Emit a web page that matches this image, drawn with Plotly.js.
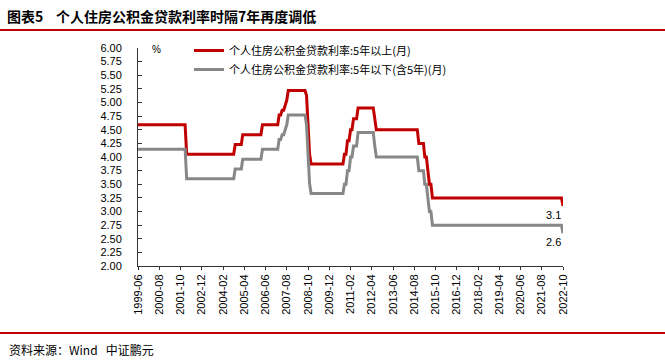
<!DOCTYPE html>
<html>
<head>
<meta charset="utf-8">
<script src="https://cdn.plot.ly/plotly-3.0.1.min.js"></script>
<style>html,body{margin:0;padding:0;background:#fff;}#chart{width:665px;height:363px;}</style>
</head>
<body>
<div id="chart"></div>
<script>
// Monthly series (months where the value changes, plus the month before each change)
const months = ['1999-06','2002-01','2002-02','2004-09','2004-10','2005-02','2005-03','2006-03','2006-04','2007-02','2007-03','2007-04','2007-05','2007-06','2007-07','2007-08','2007-09','2008-08','2008-09','2008-10','2008-11','2008-12','2010-09','2010-10','2010-11','2010-12','2011-01','2011-02','2011-03','2011-04','2011-06','2011-07','2012-05','2012-06','2012-07','2014-10','2014-11','2015-02','2015-03','2015-04','2015-05','2015-06','2015-07','2015-08','2022-09','2022-10'];
const rateAbove5 = [4.59,4.59,4.05,4.05,4.23,4.23,4.41,4.41,4.59,4.59,4.77,4.77,4.86,4.86,4.95,5.04,5.22,5.22,5.13,4.59,4.05,3.87,3.87,4.05,4.05,4.30,4.30,4.50,4.50,4.70,4.70,4.90,4.90,4.70,4.50,4.50,4.25,4.25,4.00,4.00,3.75,3.50,3.50,3.25,3.25,3.10];
const rateBelow5 = [4.14,4.14,3.60,3.60,3.78,3.78,3.96,3.96,4.14,4.14,4.32,4.32,4.41,4.41,4.50,4.59,4.77,4.77,4.59,4.05,3.51,3.33,3.33,3.50,3.50,3.75,3.75,4.00,4.00,4.20,4.20,4.45,4.45,4.20,4.00,4.00,3.75,3.75,3.50,3.50,3.25,3.00,3.00,2.75,2.75,2.60];
const seriesNames = ['个人住房公积金贷款利率:5年以上(月)','个人住房公积金贷款利率:5年以下(含5年)(月)'];
const xTickLabels = ['1999-06','2000-08','2001-10','2002-12','2004-02','2005-04','2006-06','2007-08','2008-10','2009-12','2011-02','2012-04','2013-06','2014-08','2015-10','2016-12','2018-02','2019-04','2020-06','2021-08','2022-10'];
const titleText = '图表5\u00a0\u00a0\u00a0\u00a0个人住房公积金贷款利率时隔7年再度调低';
const sourceText = '资料来源：Wind\u00a0\u00a0\u00a0中证鹏元';

const W = 665, H = 363;
const M = {l: 138, r: 102, t: 48, b: 97};
const pw = W - M.l - M.r, ph = H - M.t - M.b;
const px = X => (X - M.l) / pw;
const py = Y => (H - M.b - Y) / ph;

const cjk = '"Noto Sans CJK SC", "Noto Sans", sans-serif';
const latin = '"Liberation Sans", Arial, sans-serif';
const red = '#C00000', gray = '#878787';

const traces = [
  {x: months, y: rateAbove5, name: seriesNames[0], type: 'scatter', mode: 'lines',
   line: {color: red, width: 3}},
  {x: months, y: rateBelow5, name: seriesNames[1], type: 'scatter', mode: 'lines',
   line: {color: gray, width: 3}}
];

const last = months.length - 1;
const layout = {
  width: W, height: H,
  margin: M,
  paper_bgcolor: '#fff', plot_bgcolor: '#fff',
  showlegend: true,
  title: {text: titleText, x: 7 / W, xanchor: 'left', xref: 'container', y: 1 - 17 / H, yanchor: 'middle', yref: 'container',
          font: {family: cjk, size: 14, color: '#000', weight: 'bold'}},
  legend: {x: px(189), xanchor: 'left', y: py(36), yanchor: 'top', orientation: 'v',
           bgcolor: 'rgba(0,0,0,0)', font: {family: cjk, size: 11, color: '#000'}, tracegroupgap: 0},
  xaxis: {type: 'date', range: ['1999-06-01', '2022-10-01'],
          tickvals: xTickLabels.map(s => s + '-01'), ticktext: xTickLabels,
          tickangle: -90, ticks: 'outside', ticklen: 3, tickcolor: '#333',
          showline: true, linecolor: '#333', linewidth: 1, showgrid: false, zeroline: false,
          tickfont: {family: latin, size: 11, color: '#000'}},
  yaxis: {range: [2, 6], dtick: 0.25, tick0: 2, tickformat: '.2f',
          ticks: 'inside', ticklen: 4, tickcolor: '#333', ticklabelstandoff: 13,
          showline: true, linecolor: '#333', linewidth: 1, showgrid: false, zeroline: false,
          tickfont: {family: latin, size: 11, color: '#000'}},
  shapes: [
    {type: 'line', xref: 'paper', yref: 'paper', x0: px(0), x1: px(W), y0: py(30), y1: py(30), line: {color: red, width: 2}},
    {type: 'line', xref: 'paper', yref: 'paper', x0: px(0), x1: px(W), y0: py(333), y1: py(333), line: {color: red, width: 2}}
  ],
  annotations: [
    {x: months[last], y: rateAbove5[last], xref: 'x', yref: 'y', text: rateAbove5[last].toFixed(1), showarrow: false,
     xanchor: 'right', yanchor: 'top', yshift: -1, font: {family: latin, size: 11, color: '#000'}},
    {x: months[last], y: rateBelow5[last], xref: 'x', yref: 'y', text: rateBelow5[last].toFixed(1), showarrow: false,
     xanchor: 'right', yanchor: 'top', yshift: -1, font: {family: latin, size: 11, color: '#000'}},
    {x: px(150), y: py(50), xref: 'paper', yref: 'paper', text: '%', showarrow: false, xanchor: 'left', yanchor: 'middle',
     font: {family: latin, size: 10, color: '#000'}},
    {x: px(7), y: py(349), xref: 'paper', yref: 'paper', text: sourceText, showarrow: false, xanchor: 'left', yanchor: 'middle',
     font: {family: cjk, size: 12, color: '#000'}}
  ]
};

Plotly.newPlot('chart', traces, layout, {displayModeBar: false, staticPlot: true});
</script>
</body>
</html>
